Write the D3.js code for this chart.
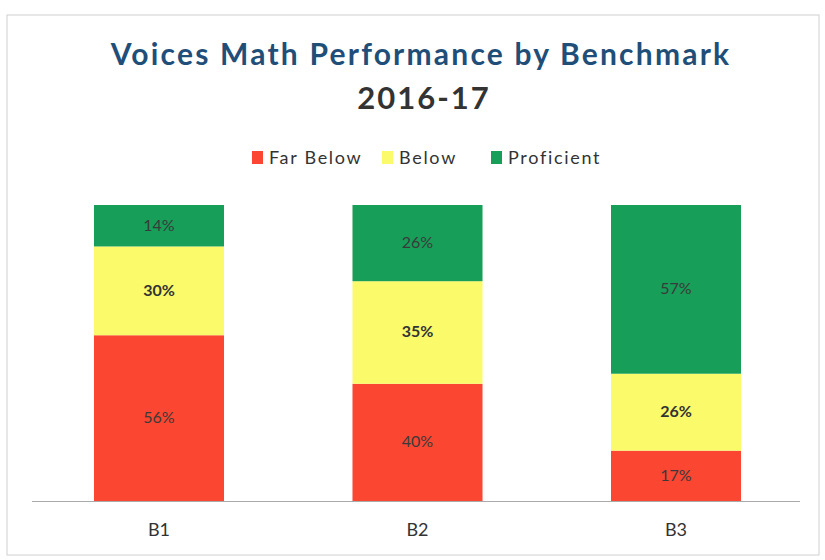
<!DOCTYPE html>
<html><head><meta charset="utf-8">
<script src="https://cdn.jsdelivr.net/npm/d3@7"></script>
<style>body{margin:0;background:#fff}svg{display:block}</style>
</head><body>
<svg id="c" width="825" height="560"></svg>
<script>
const categories = ["B1", "B2", "B3"];
const seriesNames = ["Far Below", "Below", "Proficient"];
const farBelow = [56, 40, 17];
const below = [30, 35, 26];
const proficient = [14, 26, 57];
const colors = ["#fb4632", "#fafa6a", "#179e58"];

const svg = d3.select("#c");
const font = "Lato, 'Open Sans', sans-serif";

// frame
svg.append("rect").attr("x", 7).attr("y", 15).attr("width", 812).attr("height", 540)
  .attr("fill", "none").attr("stroke", "#d0d0d0").attr("stroke-width", 1);

const rows = categories.map((c, i) => ({cat: c, "Far Below": farBelow[i], "Below": below[i], "Proficient": proficient[i]}));
const stack = d3.stack().keys(seriesNames).offset(d3.stackOffsetExpand)(rows);

const x = d3.scaleBand().domain(categories).range([30, 805]).paddingInner(0.497).paddingOuter(0.2475);
const y = d3.scaleLinear().domain([0, 1]).range([501, 205]);

const g = svg.append("g");
stack.forEach((s, si) => {
  g.selectAll(null).data(s).enter().append("rect")
    .attr("x", d => x(d.data.cat))
    .attr("y", d => y(d[1]))
    .attr("width", x.bandwidth())
    .attr("height", d => y(d[0]) - y(d[1]))
    .attr("fill", colors[si]);
  g.selectAll(null).data(s).enter().append("text")
    .attr("x", d => x(d.data.cat) + x.bandwidth() / 2)
    .attr("y", d => (y(d[0]) + y(d[1])) / 2 + 5)
    .attr("text-anchor", "middle")
    .attr("font-family", font).attr("font-size", 16)
    .attr("font-weight", si === 1 ? "bold" : "normal")
    .attr("fill", si === 1 ? "#333" : "#3a3a3a")
    .text(d => d.data[s.key] + "%");
});

// baseline axis
const ax = svg.append("g").attr("transform", "translate(0,501)")
  .call(d3.axisBottom(x).tickSize(0).tickPadding(22).tickSizeOuter(0));
ax.select(".domain").attr("stroke", "#aaa").attr("d", "M32,0.5H800");
ax.selectAll("text").attr("font-family", font).attr("font-size", 18).attr("fill", "#333");

// title
svg.append("text").attr("x", 421).attr("y", 65).attr("text-anchor", "middle")
  .attr("font-family", font).attr("font-size", 30).attr("font-weight", "bold")
  .attr("letter-spacing", 2.2)
  .attr("fill", "#1f4e79").text("Voices Math Performance by Benchmark");
svg.append("text").attr("x", 424).attr("y", 109).attr("text-anchor", "middle")
  .attr("font-family", font).attr("font-size", 31).attr("font-weight", "bold")
  .attr("letter-spacing", 2)
  .attr("fill", "#333").text("2016-17");

// legend
const legendX = [252, 382, 491];
const lg = svg.append("g");
seriesNames.forEach((n, i) => {
  lg.append("rect").attr("x", legendX[i]).attr("y", 151).attr("width", 11).attr("height", 13).attr("fill", colors[i]);
  lg.append("text").attr("x", legendX[i] + 17).attr("y", 164)
    .attr("font-family", font).attr("font-size", 18).attr("letter-spacing", 1.7)
    .attr("fill", "#333").text(n);
});
</script>
</body></html>
